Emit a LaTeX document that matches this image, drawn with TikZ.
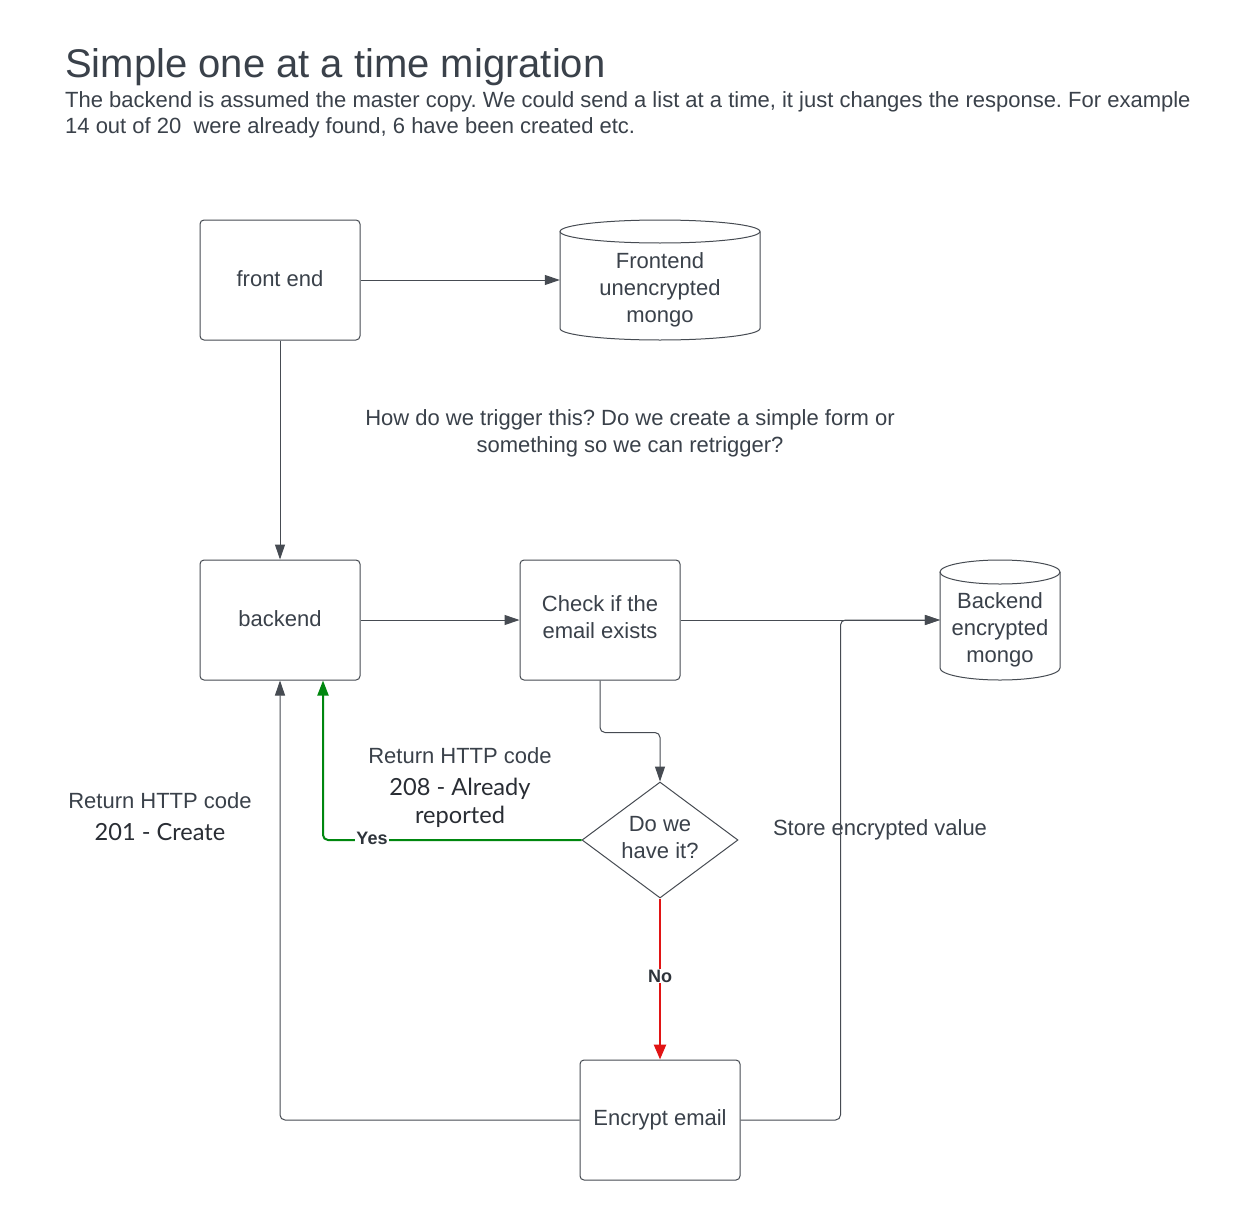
\documentclass[tikz,border=0pt]{standalone}
\usepackage{fontspec}
\setmainfont{Liberation Sans}
\newfontfamily\latofont{Lato}
\usetikzlibrary{arrows.meta,shapes.geometric}
\frenchspacing
\definecolor{txt}{RGB}{58,65,74}
\definecolor{edge}{RGB}{70,75,82}
\definecolor{okgreen}{RGB}{0,135,15}
\definecolor{nored}{RGB}{225,20,20}
\tikzset{
  box/.style={draw=edge, line width=1pt, rounded corners=4pt, minimum width=160pt, minimum height=120pt, inner sep=0pt, align=center, text=txt, font=\fontsize{22}{27}\selectfont},
  cylbox/.style={draw=none, minimum width=#1, minimum height=120pt, inner sep=0pt},
  conn/.style={draw=edge, line width=1pt, -{Triangle[length=15pt,width=10pt]}},
  plain/.style={draw=edge, line width=1pt},
  txtlbl/.style={text=txt, align=center, inner sep=0pt, font=\fontsize{22}{27}\selectfont},
  codelbl/.style={text=txt!70!black, align=center, inner sep=0pt, font=\latofont\fontsize{23.6}{28}\selectfont},
  yn/.style={fill=white, inner sep=1pt, text=txt!80!black, font=\bfseries\fontsize{18}{20}\selectfont}
}
\begin{document}
\begin{tikzpicture}[x=1pt,y=-1pt]
\useasboundingbox[fill=white] (0,0) rectangle (1260,1220);

% title and description
\node[anchor=base west, inner sep=0pt, text=txt, font=\fontsize{40}{46}\selectfont] (title) at (65,78) {Simple one at a time migration};
\node[anchor=base west, inner sep=0pt, text=txt, font=\fontsize{22}{26.5}\selectfont, align=left] (desc) at (65,134) {The backend is assumed the master copy. We could send a list at a time, it just changes the response. For example\\14 out of 20\ \ were already found, 6 have been created etc.};

% nodes
\node[box] (fe) at (280,280) {\raisebox{2pt}{front end}};
\node[cylbox=200pt] (fcyl) at (660,280) {};
\node[txtlbl] (fcyltxt) at (660,290) {Frontend\\unencrypted\\mongo};
\node[box] (be) at (280,620) {\raisebox{2pt}{backend}};
\node[box] (chk) at (600,620) {Check if the\\email exists\rule[-6pt]{0pt}{6pt}};
\node[cylbox=120pt] (bcyl) at (1000,620) {};
\node[txtlbl] (bcyltxt) at (1000,630) {Backend\\encrypted\\mongo};
\node[diamond, draw=edge, line width=1pt, aspect=1.345, minimum width=156pt, minimum height=116pt, inner sep=0pt, align=center, text=txt, font=\fontsize{22}{27}\selectfont] (dia) at (660,840) {Do we\\have it?\rule[-6pt]{0pt}{6pt}};
\node[box] (enc) at (660,1120) {\raisebox{2pt}{Encrypt email}};

% cylinder outlines
\draw[plain] (660,231.5) ellipse [x radius=100, y radius=11.5];
\draw[plain] (560,231.5) -- (560,328.5) arc[start angle=180, end angle=0, x radius=100, y radius=11.5] -- (760,231.5);
\draw[plain] (1000,572) ellipse [x radius=60, y radius=12];
\draw[plain] (940,572) -- (940,668) arc[start angle=180, end angle=0, x radius=60, y radius=12] -- (1060,572);

% texts
\node[txtlbl] (q) at (630,433) {How do we trigger this? Do we create a simple form or\\something so we can retrigger?};
\node[txtlbl] (r1) at (460,756) {Return HTTP code};
\node[codelbl] (c1) at (460,803) {208 - Already\\reported};
\node[txtlbl] (r2) at (160,801) {Return HTTP code};
\node[codelbl] (c2) at (160,832) {201 - Create};
\node[txtlbl] (st) at (880,830) {Store encrypted value};

% connectors
\draw[conn] (fe.east) -- (fcyl.west);
\draw[conn] (fe.south) -- (be.north);
\draw[conn] (be.east) -- (chk.west);
\draw[conn] (chk.east) -- (bcyl.west);
\draw[conn, rounded corners=5pt] (chk.south) -- ++(0,52) -| (dia.north);
\draw[draw=okgreen, line width=2pt, rounded corners=5pt, -{Triangle[length=15pt,width=11pt]}] (dia.west) -| ([xshift=43pt]be.south);
\node[yn] (yes) at (372,838) {Yes};
\draw[draw=nored, line width=2.5pt, -{Triangle[length=15pt,width=12pt]}] (dia.south) -- (enc.north);
\node[yn] (no) at (660,976) {No};
\draw[conn, rounded corners=5pt] (enc.west) -| (be.south);
\draw[conn, rounded corners=5pt] (enc.east) -- ++(100,0) |- (bcyl.west);
\end{tikzpicture}
\end{document}
